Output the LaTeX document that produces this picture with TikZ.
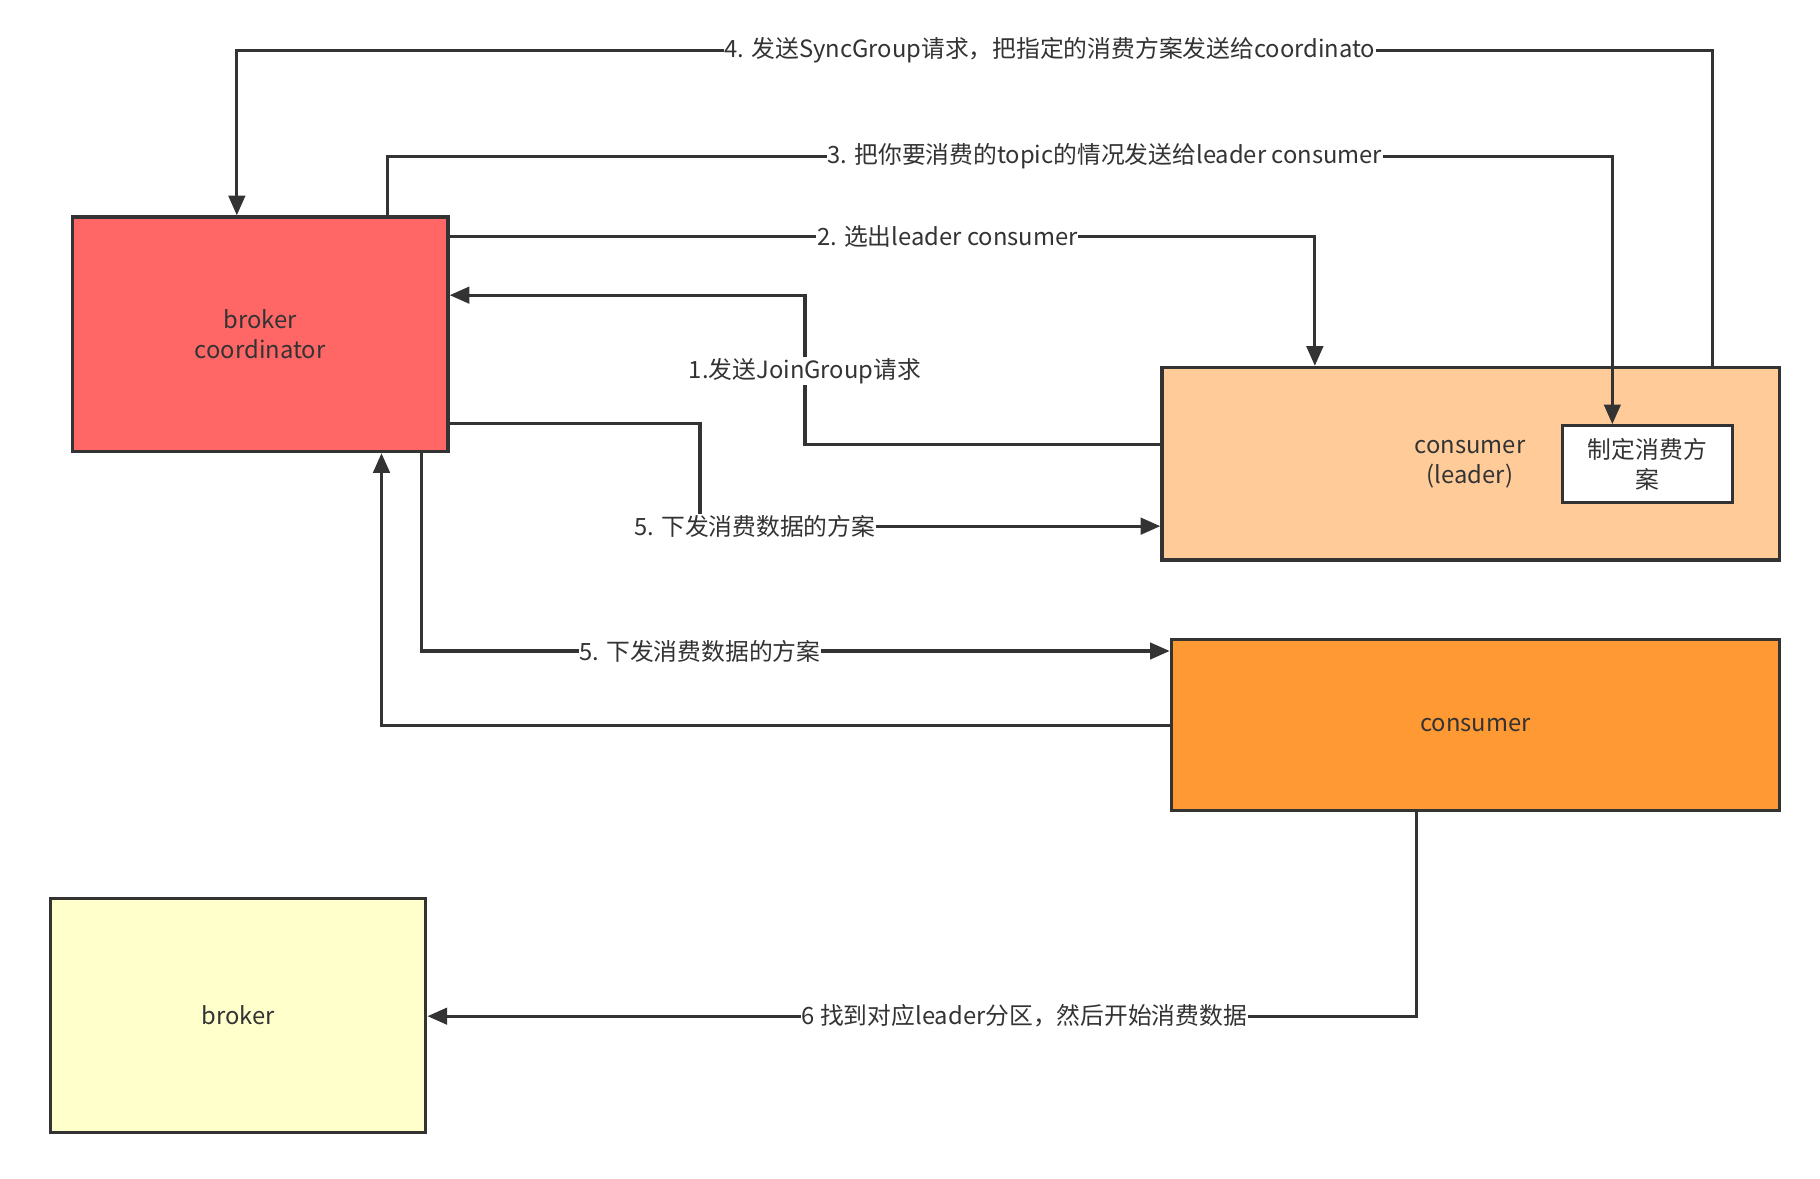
\documentclass[tikz,border=0pt]{standalone}
\usepackage{fontspec}
\setmainfont{Noto Sans CJK SC}
\usetikzlibrary{arrows.meta}
\definecolor{ln}{HTML}{333333}
\definecolor{cr}{HTML}{FF6666}
\definecolor{cp}{HTML}{FFCC99}
\definecolor{co}{HTML}{FF9933}
\definecolor{cy}{HTML}{FFFFCC}
\begin{document}
\begin{tikzpicture}[x=0.05cm,y=-0.05cm,
  font=\fontsize{29}{36}\selectfont, text=ln,
  box/.style={draw=ln,line width=4pt,inner sep=0pt,align=center},
  con/.style={draw=ln,line width=4pt,-{Triangle[length=24pt,width=20pt]}},
  lab/.style={fill=white,inner sep=1pt}]
\useasboundingbox (0,0) rectangle (1560,1010);
\node[box,fill=cr,minimum width=16.1cm,minimum height=10.05cm] (bc) at (223,286.5) {broker\\coordinator};
\node[box,fill=cp,minimum width=26.45cm,minimum height=8.25cm] (cl) at (1260.5,397.5) {};
\node at (1260,398) [align=center] {consumer\\(leader)};
\node[box,fill=white,minimum width=7.3cm,minimum height=3.3cm] (plan) at (1412,398) {制定消费方\\案};
\node[box,fill=co,minimum width=26.05cm,minimum height=7.35cm] (c) at (1264.5,621.5) {consumer};
\node[box,fill=cy,minimum width=16.1cm,minimum height=10.05cm] (b) at (204,870.5) {broker};

\draw[con] (996,381) -- (690,381) -- (690,253) -- (bc.east |- 0,253);
\node[lab] at (690,318) {1.发送JoinGroup请求};
\draw[con] (bc.east |- 0,203) -- (1127,203) -- (cl.north -| 1127,0);
\node[lab] at (812,203) {2. 选出leader consumer};
\draw[con] (332,186) -- (332,134) -- (1382,134) -- (plan.north -| 1382,0);
\node[lab] at (947,134) {3. 把你要消费的topic的情况发送给leader consumer};
\draw[con] (1468,315) -- (1468,43) -- (203,43) -- (bc.north -| 203,0);
\node[lab] at (900,43) {4. 发送SyncGroup请求，把指定的消费方案发送给coordinato};
\draw[con] (bc.east |- 0,363) -- (600,363) -- (600,451) -- (cl.west |- 0,451);
\node[lab] at (647,451) {5. 下发消费数据的方案};
\draw[con] (361,387) -- (361,558) -- (c.west |- 0,558);
\node[lab] at (600,558) {5. 下发消费数据的方案};
\draw[con] (c.west |- 0,622) -- (327,622) -- (bc.south -| 327,0);
\draw[con] (1214,695) -- (1214,871) -- (b.east |- 0,871);
\node[lab] at (878,871) {6 找到对应leader分区，然后开始消费数据};
\end{tikzpicture}
\end{document}
